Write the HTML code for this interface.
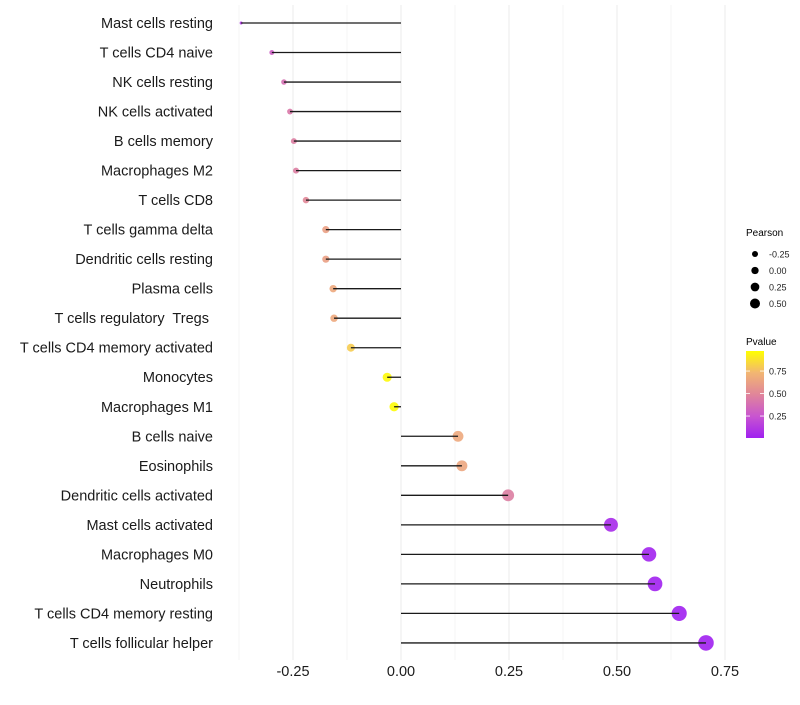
<!DOCTYPE html>
<html><head><meta charset="utf-8"><style>
body{margin:0;background:#fff;font-family:"Liberation Sans",sans-serif}
</style></head><body>
<svg id="chart" width="800" height="700" xmlns="http://www.w3.org/2000/svg" font-family="Liberation Sans, sans-serif">
<defs><linearGradient id="pg" x1="0" y1="1" x2="0" y2="0">
<stop offset="0" stop-color="#A020F0"/><stop offset="0.25" stop-color="#C855D0"/><stop offset="0.5" stop-color="#E0859A"/><stop offset="0.75" stop-color="#F2B672"/><stop offset="1" stop-color="#FFFF00"/></linearGradient></defs>
<g id="grid"></g><g id="dots"></g><g id="stems"></g><g id="ylabels"></g><g id="xlabels"></g>
<g id="legend">
<text x="746" y="236" font-size="10">Pearson</text>
<g id="sizeLegend"></g>
<text x="746" y="345" font-size="10">Pvalue</text>
<rect x="746" y="351" width="18" height="87" fill="url(#pg)"/>
<g id="cbTicks"></g>
</g>
</svg>
<script>
const categories=["Mast cells resting","T cells CD4 naive","NK cells resting","NK cells activated","B cells memory","Macrophages M2","T cells CD8","T cells gamma delta","Dendritic cells resting","Plasma cells","T cells regulatory  Tregs ","T cells CD4 memory activated","Monocytes","Macrophages M1","B cells naive","Eosinophils","Dendritic cells activated","Mast cells activated","Macrophages M0","Neutrophils","T cells CD4 memory resting","T cells follicular helper"];
const pearson=[-0.370,-0.299,-0.271,-0.257,-0.248,-0.243,-0.220,-0.174,-0.174,-0.157,-0.155,-0.116,-0.032,-0.016,0.132,0.141,0.248,0.486,0.574,0.588,0.644,0.706];
const pvalue=[0.10,0.30,0.38,0.42,0.45,0.45,0.50,0.62,0.62,0.66,0.66,0.80,0.95,0.96,0.66,0.65,0.45,0.05,0.02,0.01,0.004,0.001];
const xTicks=[-0.25,0,0.25,0.5,0.75];
const xTickLabels=["-0.25","0.00","0.25","0.50","0.75"];
const sizeLegendVals=[-0.25,0,0.25,0.5];
const sizeLegendLabels=["-0.25","0.00","0.25","0.50"];
const cbVals=[0.25,0.5,0.75];
const cbLabels=["0.25","0.50","0.75"];

const NS="http://www.w3.org/2000/svg";
const X=v=>401+v*432;
const Y=i=>23+i*29.52;
const R=v=>Math.sqrt(2.25+54*Math.max(0,v+0.37));
const stops=[[0,[160,32,240]],[0.25,[200,85,208]],[0.5,[224,133,154]],[0.75,[242,182,114]],[1,[255,255,0]]];
function col(p){const t=Math.max(0,Math.min(1,(p-0.005)/0.965));
for(let k=1;k<stops.length;k++){if(t<=stops[k][0]){const a=stops[k-1],b=stops[k],f=(t-a[0])/(b[0]-a[0]);
return "rgb("+a[1].map((c,j)=>Math.round(c+(b[1][j]-c)*f)).join(",")+")";}}return "rgb(255,255,0)";}
function mk(tag,attrs,parent){const e=document.createElementNS(NS,tag);for(const k in attrs)e.setAttribute(k,attrs[k]);parent.appendChild(e);return e;}
const grid=document.getElementById('grid');
for(let v=-0.375;v<=0.76;v+=0.125){const major=Math.abs(v*4-Math.round(v*4))<1e-6;
const l=mk('line',{x1:X(v),x2:X(v),y1:5,y2:660,stroke:major?'#ebebeb':'#f3f3f3','stroke-width':major?1:0.8},grid);

}
const dots=document.getElementById('dots'),stems=document.getElementById('stems'),yl=document.getElementById('ylabels');
categories.forEach((c,i)=>{
const d=mk('circle',{cx:X(pearson[i]),cy:Y(i),r:R(pearson[i]),fill:col(pvalue[i]),'fill-opacity':0.9},dots);


const s=mk('line',{x1:X(0),x2:X(pearson[i]),y1:Y(i),y2:Y(i),stroke:'#1a1a1a','stroke-width':1.3},stems);


const t=mk('text',{x:213,y:Y(i)+5,'text-anchor':'end','font-size':14.5,fill:'#1a1a1a','xml:space':'preserve',style:'white-space:pre'},yl);t.textContent=c;

});
const xl=document.getElementById('xlabels');
xTicks.forEach((v,i)=>{const t=mk('text',{x:X(v),y:676,'text-anchor':'middle','font-size':14.5,fill:'#1a1a1a'},xl);t.textContent=xTickLabels[i];

});
const sl=document.getElementById('sizeLegend');
sizeLegendVals.forEach((v,i)=>{const y=254+i*16.5;
const c=mk('circle',{cx:755,cy:y,r:3+i*0.67,fill:'#000'},sl);


const t=mk('text',{x:769,y:y+3.5,'font-size':9,fill:'#222'},sl);t.textContent=sizeLegendLabels[i];

});
const cb=document.getElementById('cbTicks');
cbVals.forEach((v,i)=>{const y=438-(v-0.006)*90;
mk('line',{x1:746,x2:750,y1:y,y2:y,stroke:'#fff','stroke-width':0.8},cb);
mk('line',{x1:760,x2:764,y1:y,y2:y,stroke:'#fff','stroke-width':0.8},cb);
const t=mk('text',{x:769,y:y+3.5,'font-size':9,fill:'#222'},cb);t.textContent=cbLabels[i];

});
</script>
</body></html>
